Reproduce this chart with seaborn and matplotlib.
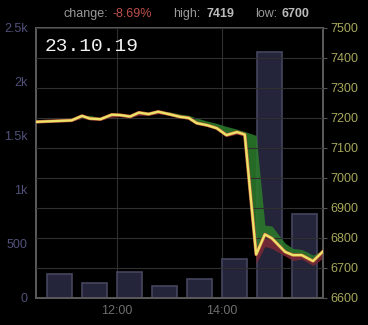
import matplotlib
matplotlib.use("Agg")
import matplotlib.pyplot as plt
import seaborn as sns
import pandas as pd
import numpy as np

# ---- data (time in minutes since midnight) ----
times_min = [627, 642, 668, 680, 689, 701, 714, 723, 735, 745, 756, 767, 779, 792,
             802, 811, 823, 834, 845, 857, 866, 879, 889, 897, 912, 921, 931, 944, 956]
price = [7187, 7189, 7192, 7207, 7198, 7196, 7211, 7210, 7205, 7218, 7213, 7221, 7213, 7204,
         7200, 7183, 7176, 7166, 7143, 7153, 7145, 6745, 6812, 6799, 6754, 6743, 6743, 6723, 6757]
upper = [7189, 7190, 7193, 7208, 7209, 7201, 7212, 7213, 7209, 7222, 7219, 7223, 7221, 7213,
         7209, 7200, 7190, 7182, 7172, 7163, 7155, 7142, 6843, 6840, 6783, 6765, 6762, 6743, 6760]
lower = [7184, 7186, 7189, 7199, 7195, 7193, 7202, 7205, 7201, 7209, 7209, 7214, 7210, 7200,
         7196, 7179, 7172, 7162, 7138, 7146, 7139, 6715, 6772, 6765, 6740, 6725, 6730, 6708, 6735]

vol_start_min = [640, 680, 720, 760, 800, 840, 880, 920]
volume = [222, 136, 244, 108, 173, 358, 2278, 775]

x_ticks_min = [720, 840]
x_tick_labels = ["12:00", "14:00"]
vol_ticks = [0, 500, 1000, 1500, 2000, 2500]
vol_tick_labels = ["0", "500", "1k", "1.5k", "2k", "2.5k"]
price_ticks = [6600, 6700, 6800, 6900, 7000, 7100, 7200, 7300, 7400, 7500]

date_label = "23.10.19"
change_text = "-8.69%"
high_text = "7419"
low_text = "6700"

# ---- style ----
sns.set_style("dark", rc={"axes.facecolor": "black", "figure.facecolor": "black"})
plt.rcParams["font.family"] = ["Liberation Sans", "DejaVu Sans"]

df = pd.DataFrame({"t": times_min, "price": price, "upper": upper, "lower": lower})

fig = plt.figure(figsize=(3.68, 3.25), dpi=100, facecolor="black")
ax = fig.add_axes([36 / 368, 27 / 325, 287 / 368, 270 / 325])
ax.set_facecolor("black")
ax2 = ax.twinx()

# volume bars (left axis)
ax.bar(vol_start_min, volume, width=29, align="edge", color="#24243a",
       edgecolor="#45455e", linewidth=1.2, zorder=2)
ax.set_ylim(0, 2500)
ax.set_xlim(627.4, 955.4)
ax.set_yticks(vol_ticks)
ax.set_yticklabels(vol_tick_labels)
ax.set_xticks(x_ticks_min)
ax.set_xticklabels(x_tick_labels)
ax.tick_params(axis="y", colors="#50507a", labelsize=9, length=0, pad=6)
ax.tick_params(axis="x", colors="#6e6e6e", labelsize=9, length=0, pad=5)
ax.set_axisbelow(True)
ax.grid(axis="x", color="#303030", linewidth=0.8)
ax.grid(axis="y", visible=False)

# price band + line (right axis)
t = np.array(times_min, dtype=float)
p = np.array(price, dtype=float)
u = np.array(upper, dtype=float)
lo = np.array(lower, dtype=float)
ax2.fill_between(t, p, u, where=u >= p, interpolate=True, color="#2b7a2b", alpha=0.88,
                 linewidth=0, zorder=2)
ax2.fill_between(t, lo, p, where=lo <= p, interpolate=True, color="#7a2a36", alpha=0.88,
                 linewidth=0, zorder=2)
sns.lineplot(data=df, x="t", y="price", ax=ax2, color="#c8643c", linewidth=2.4, zorder=3)
sns.lineplot(data=df, x="t", y="price", ax=ax2, color="#ece46a", linewidth=1.6, zorder=4)
ax2.set_ylim(6600, 7500)
ax2.set_yticks(price_ticks)
ax2.set_yticklabels([str(v) for v in price_ticks])
ax2.tick_params(axis="y", colors="#a8a85c", labelsize=9, length=3, pad=2)
ax2.tick_params(axis="y", which="both", color="#555555")
ax2.set_ylabel("")
ax2.set_xlabel("")
ax.set_xlabel("")
ax2.grid(axis="y", color="#303030", linewidth=0.8)
ax2.set_axisbelow(False)
for gl in ax2.get_ygridlines():
    gl.set_zorder(1.5)

for a in (ax, ax2):
    for s in a.spines.values():
        s.set_color("#5c5c5c")
        s.set_linewidth(1.2)

# date label
ax2.text(0.031, 0.931, date_label, transform=ax.transAxes, color="#f2f2f2",
         fontsize=14, family=["Liberation Mono", "DejaVu Sans Mono"], va="center", ha="left",
         zorder=6)

# header
yh = 1 - 14 / 325
fig.text(63 / 368, yh, "change:", color="#9a9a9a", fontsize=9, va="center", ha="left")
fig.text(113 / 368, yh, change_text, color="#c0504d", fontsize=9, va="center", ha="left")
fig.text(173 / 368, yh, "high:", color="#9a9a9a", fontsize=9, va="center", ha="left")
fig.text(206 / 368, yh, high_text, color="#bbbbbb", fontsize=9, fontweight="bold",
         va="center", ha="left")
fig.text(255 / 368, yh, "low:", color="#9a9a9a", fontsize=9, va="center", ha="left")
fig.text(282 / 368, yh, low_text, color="#bbbbbb", fontsize=9, fontweight="bold",
         va="center", ha="left")

fig.savefig("out.png", dpi=100, facecolor="black")
